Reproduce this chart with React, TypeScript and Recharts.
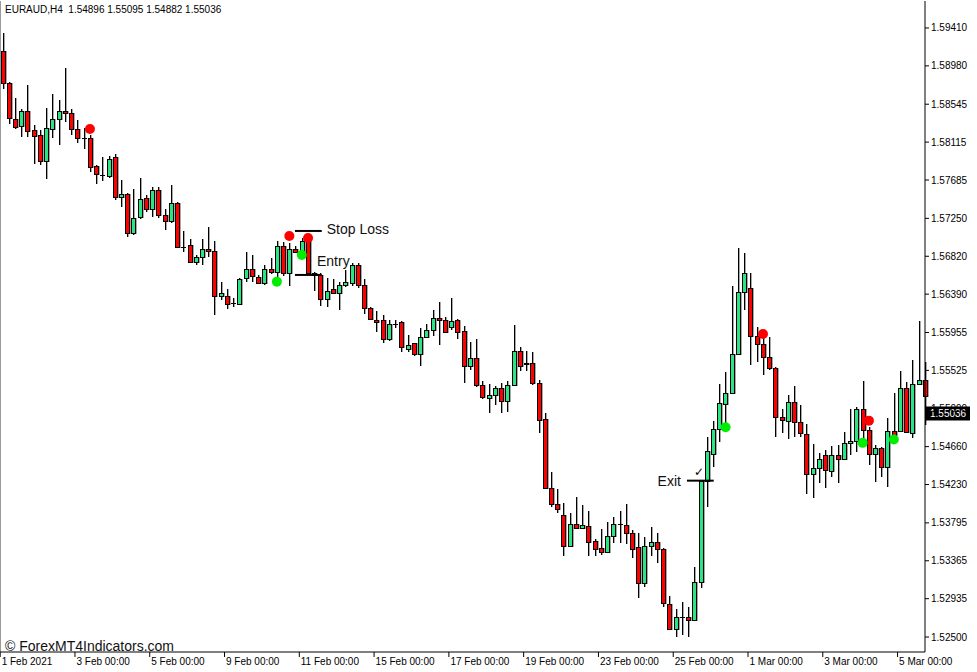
// EURAUD H4 candlestick chart (MT4 style) with signal dots and trade marks
import {
  ComposedChart,
  Bar,
  Scatter,
  XAxis,
  YAxis,
  ReferenceLine,
} from 'recharts'

// bar 0 = 1 Feb 2021 00:00, one bar every 4 hours
const openPrices = [
  1.5915, 1.58786, 1.58378, 1.58298, 1.58469, 1.58253, 1.58196, 1.57902, 1.58264, 1.58378,
  1.58469, 1.58446, 1.58264, 1.58162, 1.58162, 1.57845, 1.57742, 1.57731, 1.57947, 1.57493,
  1.57527, 1.57084, 1.57266, 1.57481, 1.57357, 1.57572, 1.57288, 1.57221, 1.57425, 1.56926,
  1.56948, 1.56755, 1.56813, 1.56903, 1.56881, 1.5637, 1.5637, 1.5629, 1.56279, 1.56574,
  1.56676, 1.56586, 1.56517, 1.56676, 1.56642, 1.56937, 1.56631, 1.56903, 1.56835, 1.57039,
  1.56631, 1.56608, 1.56336, 1.56449, 1.56404, 1.56494, 1.56517, 1.56721, 1.56494, 1.56233,
  1.56097, 1.56097, 1.55882, 1.56052, 1.56074, 1.55768, 1.55836, 1.55712, 1.55905, 1.55984,
  1.5612, 1.56097, 1.56018, 1.56097, 1.55973, 1.55575, 1.55666, 1.5536, 1.55212, 1.55246,
  1.55326, 1.55179, 1.5536, 1.55746, 1.55598, 1.55609, 1.55383, 1.54974, 1.54191, 1.5401,
  1.53885, 1.53533, 1.53783, 1.53737, 1.5376, 1.5359, 1.5351, 1.53465, 1.53647, 1.53783,
  1.53771, 1.53681, 1.53522, 1.53113, 1.53533, 1.53578, 1.53499, 1.52875, 1.52592, 1.52728,
  1.52728, 1.52694, 1.53124, 1.54271, 1.54577, 1.54861, 1.55145, 1.55269, 1.55712, 1.56415,
  1.5646, 1.55916, 1.55825, 1.55678, 1.55552, 1.54997, 1.54952, 1.55167, 1.5494, 1.54804,
  1.5435, 1.54418, 1.54565, 1.54384, 1.54565, 1.5452, 1.54702, 1.54725, 1.55087, 1.54849,
  1.54577, 1.54645, 1.5443, 1.54838, 1.54838, 1.55326, 1.54815, 1.55372, 1.55417,
]
const highPrices = [
  1.59354, 1.58797, 1.58616, 1.58491, 1.58763, 1.58309, 1.58253, 1.58502, 1.58662, 1.58593,
  1.58956, 1.58491, 1.58366, 1.58275, 1.58196, 1.57856, 1.57947, 1.57958, 1.57981, 1.57686,
  1.57538, 1.57584, 1.57708, 1.57515, 1.57607, 1.57607, 1.57357, 1.57629, 1.57436, 1.57107,
  1.57016, 1.56835, 1.57016, 1.57153, 1.56994, 1.56528, 1.56449, 1.56347, 1.56574, 1.56869,
  1.56835, 1.56608, 1.56721, 1.56801, 1.56994, 1.56982, 1.56971, 1.56937, 1.57027, 1.57073,
  1.56637, 1.56631, 1.56574, 1.56563, 1.56528, 1.56665, 1.56744, 1.56744, 1.56563, 1.56239,
  1.562, 1.56154, 1.56097, 1.56097, 1.5608, 1.55927, 1.5584, 1.56006, 1.56052, 1.56211,
  1.56301, 1.56132, 1.56347, 1.56109, 1.56029, 1.55847, 1.55882, 1.55406, 1.55372, 1.55349,
  1.55383, 1.55406, 1.5604, 1.55791, 1.55746, 1.55734, 1.55417, 1.55042, 1.54372, 1.5418,
  1.54021, 1.53908, 1.5409, 1.53998, 1.53931, 1.53613, 1.53726, 1.53805, 1.53863, 1.53931,
  1.5401, 1.53715, 1.53681, 1.53636, 1.53749, 1.53681, 1.5351, 1.52966, 1.52818, 1.52897,
  1.52841, 1.53295, 1.54276, 1.5477, 1.54952, 1.55372, 1.55507, 1.56483, 1.56914, 1.56858,
  1.56631, 1.56018, 1.55893, 1.55905, 1.55558, 1.55087, 1.55246, 1.55349, 1.55133, 1.54918,
  1.54691, 1.54588, 1.54622, 1.54668, 1.54679, 1.54826, 1.55087, 1.55111, 1.55406, 1.54884,
  1.54679, 1.54656, 1.54986, 1.55269, 1.55519, 1.55394, 1.55643, 1.56086, 1.5562,
]
const lowPrices = [
  1.58718, 1.58321, 1.58264, 1.58174, 1.58174, 1.57868, 1.57856, 1.57697, 1.58162, 1.58083,
  1.58343, 1.58196, 1.58106, 1.58038, 1.57776, 1.57641, 1.57675, 1.57708, 1.57459, 1.5738,
  1.57039, 1.57061, 1.57243, 1.57322, 1.57266, 1.57254, 1.57118, 1.57198, 1.5692, 1.56869,
  1.56744, 1.56721, 1.56721, 1.56813, 1.56154, 1.56324, 1.56222, 1.56245, 1.56267, 1.56528,
  1.56528, 1.56506, 1.56494, 1.5662, 1.56586, 1.56597, 1.56483, 1.56858, 1.56801, 1.56625,
  1.56427, 1.56256, 1.56245, 1.56393, 1.56211, 1.56472, 1.56483, 1.5646, 1.56166, 1.56097,
  1.55961, 1.55836, 1.55859, 1.56006, 1.55734, 1.55734, 1.55689, 1.55575, 1.55899, 1.55916,
  1.55813, 1.5595, 1.55984, 1.55882, 1.55383, 1.5553, 1.55338, 1.55201, 1.55042, 1.55133,
  1.55042, 1.55053, 1.55349, 1.55519, 1.55519, 1.5536, 1.54815, 1.54185, 1.53976, 1.53908,
  1.5342, 1.53527, 1.53726, 1.53726, 1.5342, 1.5342, 1.53431, 1.53454, 1.53567, 1.53567,
  1.53556, 1.53397, 1.52943, 1.53068, 1.5342, 1.5334, 1.52841, 1.5258, 1.52501, 1.52523,
  1.52501, 1.52683, 1.53056, 1.53976, 1.5443, 1.54713, 1.54884, 1.55258, 1.557, 1.56211,
  1.55586, 1.5562, 1.55473, 1.5553, 1.54764, 1.54815, 1.54747, 1.5477, 1.5477, 1.54124,
  1.54078, 1.54248, 1.54191, 1.54316, 1.54248, 1.54509, 1.54565, 1.54599, 1.54747, 1.54452,
  1.54259, 1.54316, 1.54203, 1.54758, 1.54835, 1.54815, 1.54758, 1.55366, 1.54906,
]
const closePrices = [
  1.58786, 1.58389, 1.58287, 1.58469, 1.58242, 1.58185, 1.57902, 1.58275, 1.58378, 1.58469,
  1.58446, 1.58264, 1.58162, 1.58157, 1.57834, 1.57754, 1.57742, 1.57924, 1.57493, 1.57527,
  1.57084, 1.57254, 1.5747, 1.57357, 1.57572, 1.57288, 1.57221, 1.57425, 1.56926, 1.56926,
  1.56755, 1.56813, 1.56903, 1.56881, 1.5637, 1.56404, 1.56279, 1.5629, 1.56563, 1.56676,
  1.56597, 1.56517, 1.56676, 1.56642, 1.56937, 1.56631, 1.56903, 1.56869, 1.56994, 1.56631,
  1.56608, 1.56336, 1.56427, 1.56404, 1.56494, 1.56528, 1.56721, 1.56494, 1.56233, 1.56109,
  1.56074, 1.55882, 1.56052, 1.56052, 1.55791, 1.55813, 1.55712, 1.55905, 1.55984, 1.5612,
  1.56097, 1.55961, 1.56086, 1.55961, 1.55575, 1.55666, 1.5536, 1.55224, 1.55246, 1.55326,
  1.55179, 1.5536, 1.55746, 1.55575, 1.55609, 1.55383, 1.54963, 1.54191, 1.5401, 1.53953,
  1.53533, 1.53783, 1.53737, 1.53771, 1.53578, 1.53499, 1.53465, 1.53647, 1.53783, 1.53783,
  1.53681, 1.53499, 1.53113, 1.53533, 1.53578, 1.53499, 1.52886, 1.52592, 1.52728, 1.52728,
  1.52694, 1.53124, 1.54271, 1.54611, 1.54861, 1.55156, 1.55269, 1.55712, 1.56415, 1.56631,
  1.55916, 1.55825, 1.55678, 1.55552, 1.54991, 1.54963, 1.55167, 1.5494, 1.54815, 1.5435,
  1.54418, 1.5452, 1.54395, 1.54565, 1.5452, 1.54702, 1.54725, 1.55087, 1.54849, 1.54577,
  1.54645, 1.5443, 1.54838, 1.54792, 1.55326, 1.54826, 1.55372, 1.55417, 1.55235,
]

const xTickBars = [0, 12, 24, 36, 48, 60, 72, 84, 96, 108, 120, 132, 144]
const xTickLabels = [
  '1 Feb 2021', '3 Feb 00:00', '5 Feb 00:00', '9 Feb 00:00', '11 Feb 00:00', '15 Feb 00:00',
  '17 Feb 00:00', '19 Feb 00:00', '23 Feb 00:00', '25 Feb 00:00', '1 Mar 00:00', '3 Mar 00:00',
  '5 Mar 00:00',
]
const yTicks = [
  1.5941, 1.5898, 1.58545, 1.58115, 1.57685, 1.5725, 1.5682, 1.5639, 1.55955, 1.55525,
  1.5509, 1.5466, 1.5423, 1.53795, 1.53365, 1.52935, 1.525,
]

// indicator dots
const sellSignalBars = [14, 46, 49, 122, 139]
const sellSignalPrices = [1.58264, 1.5705, 1.57027, 1.55938, 1.54955]
const buySignalBars = [44, 48, 116, 138, 143]
const buySignalPrices = [1.56532, 1.56835, 1.5488, 1.54703, 1.54741]

// hand drawn trade marks
const stopLossPrice = 1.57107
const entryPrice = 1.56608
const exitPrice = 1.54274
const entryBars = [46.9, 51.2]
const exitBars = [109.8, 114.1]

const lastPrice = 1.55036
const headerText = 'EURAUD,H4  1.54896 1.55095 1.54882 1.55036'

const Y_MIN = 1.5233
const Y_MAX = 1.59716

const candles = openPrices.map((o, i) => ({
  i,
  open: o,
  high: highPrices[i],
  low: lowPrices[i],
  close: closePrices[i],
}))
const sellDots = sellSignalBars.map((b, k) => ({ i: b, price: sellSignalPrices[k] }))
const buyDots = buySignalBars.map((b, k) => ({ i: b, price: buySignalPrices[k] }))

const UP = '#2be584'
const DOWN = '#ff0000'
const FONT = '"Liberation Sans", Arial, sans-serif'

// 蠟燭：range bar 的 y / height 對應 high / low，其他價位線性換算
function Candle(props: any) {
  const { x, y, width, height, payload } = props
  if (x == null || !payload) return null
  const top = Math.min(y, y + height)
  const h = Math.abs(height)
  const { open, high, low, close } = payload
  const k = h / (high - low)
  const py = (v: number) => top + (high - v) * k
  const cx = Math.round(x + width / 2)
  const hiY = Math.round(py(high))
  const loY = Math.round(py(low))
  const bTop = Math.round(py(Math.max(open, close)))
  const bBot = Math.round(py(Math.min(open, close)))
  const flat = bBot - bTop < 1
  return (
    <g>
      <line x1={cx + 1.5} x2={cx + 1.5} y1={hiY} y2={loY} stroke="#a8a8a8" strokeWidth={1} />
      <line x1={cx + 0.5} x2={cx + 0.5} y1={hiY} y2={loY} stroke="#000" strokeWidth={1} />
      {flat ? (
        <line x1={cx - 2} x2={cx + 3} y1={bTop + 0.5} y2={bTop + 0.5} stroke="#000" strokeWidth={1} />
      ) : (
        <g>
          <line x1={cx + 3.5} x2={cx + 3.5} y1={bTop} y2={bBot + 1} stroke="#a8a8a8" strokeWidth={1} />
          <rect
            x={cx - 1.5}
            y={bTop + 0.5}
            width={4}
            height={bBot - bTop}
            fill={close > open ? UP : DOWN}
            stroke="#000"
            strokeWidth={1}
          />
        </g>
      )}
    </g>
  )
}

function XTick(props: any) {
  const { x, y, payload } = props
  const idx = xTickBars.indexOf(payload.value)
  return (
    <g>
      <line x1={x - 2.5} x2={x - 2.5} y1={y} y2={y + 5} stroke="#000" />
      <text x={x - 1} y={y + 13} fontSize={10} fontFamily={FONT} fill="#000" textAnchor="start">
        {xTickLabels[idx]}
      </text>
    </g>
  )
}

function YTick(props: any) {
  const { x, y, payload } = props
  return (
    <text x={x} y={y + 3.5} fontSize={10} fontFamily={FONT} fill="#000" textAnchor="start">
      {Number(payload.value).toFixed(5)}
    </text>
  )
}

const dot = (color: string) => (p: any) => <circle cx={p.cx} cy={p.cy} r={5} fill={color} />

export default function App() {
  return (
    <div
      style={{
        position: 'absolute',
        left: 0,
        top: 0,
        width: 977,
        height: 672,
        background: '#fff',
        fontFamily: FONT,
      }}
    >
      <ComposedChart
        width={977}
        height={672}
        data={candles}
        margin={{ top: 1, right: 0, bottom: 0, left: 0 }}
      >
        <XAxis
          type="number"
          dataKey="i"
          domain={[-0.43, 148]}
          ticks={xTickBars}
          interval={0}
          tick={<XTick />}
          tickLine={false}
          tickSize={0}
          tickMargin={0}
          axisLine={{ stroke: '#000' }}
          height={20}
        />
        <YAxis
          type="number"
          orientation="right"
          domain={[Y_MIN, Y_MAX]}
          ticks={yTicks}
          interval={0}
          tick={<YTick />}
          tickLine={{ stroke: '#000' }}
          tickSize={4}
          tickMargin={2}
          axisLine={{ stroke: '#000' }}
          width={52}
        />
        <ReferenceLine x={-0.43} stroke="#9a9a9a" strokeWidth={2} />
        <Bar
          dataKey={(d: any) => [d.low, d.high]}
          barSize={6}
          shape={<Candle />}
          isAnimationActive={false}
        />
        <Scatter data={sellDots} dataKey="price" shape={dot('#ff0000')} isAnimationActive={false} />
        <Scatter data={buyDots} dataKey="price" shape={dot('#00ee00')} isAnimationActive={false} />
        <ReferenceLine
          segment={[{ x: entryBars[0], y: stopLossPrice }, { x: entryBars[1], y: stopLossPrice }]}
          stroke="#000"
          strokeWidth={2}
          label={(p: any) => (
            <text x={p.viewBox.x + p.viewBox.width + 5} y={p.viewBox.y + 3.5} fontSize={14} fontFamily={FONT} fill="#111">
              Stop Loss
            </text>
          )}
        />
        <ReferenceLine
          segment={[{ x: entryBars[0], y: entryPrice }, { x: entryBars[1], y: entryPrice }]}
          stroke="#000"
          strokeWidth={2}
          label={(p: any) => (
            <text x={p.viewBox.x + 22} y={p.viewBox.y - 9} fontSize={14} fontFamily={FONT} fill="#111">
              Entry
            </text>
          )}
        />
        <ReferenceLine
          segment={[{ x: exitBars[0], y: exitPrice }, { x: exitBars[1], y: exitPrice }]}
          stroke="#000"
          strokeWidth={2}
          label={(p: any) => (
            <g>
              <text x={p.viewBox.x - 6} y={p.viewBox.y + 5} fontSize={14} fontFamily={FONT} fill="#111" textAnchor="end">
                Exit
              </text>
              <text x={p.viewBox.x + 12} y={p.viewBox.y - 5} fontSize={12} fontFamily='"DejaVu Sans", sans-serif' fill="#000" stroke="none" textAnchor="middle">
                {'\u2713\uFE0E'}
              </text>
            </g>
          )}
        />
        <ReferenceLine
          y={lastPrice}
          stroke="none"
          label={(p: any) => (
            <g>
              <rect x={p.viewBox.x + p.viewBox.width + 1} y={p.viewBox.y - 7} width={44} height={14} fill="#000" />
              <text x={p.viewBox.x + p.viewBox.width + 5} y={p.viewBox.y + 3.5} fontSize={10} fontFamily={FONT} fill="#fff">
                {lastPrice.toFixed(5)}
              </text>
            </g>
          )}
        />
      </ComposedChart>
      <div style={{ position: 'absolute', left: 5, top: 4, fontSize: 10, lineHeight: '12px', color: '#000', whiteSpace: 'pre' }}>
        {headerText}
      </div>
      <div style={{ position: 'absolute', left: 5, top: 638, fontSize: 14, lineHeight: '16px', color: '#111' }}>
        © ForexMT4Indicators.com
      </div>
    </div>
  )
}
